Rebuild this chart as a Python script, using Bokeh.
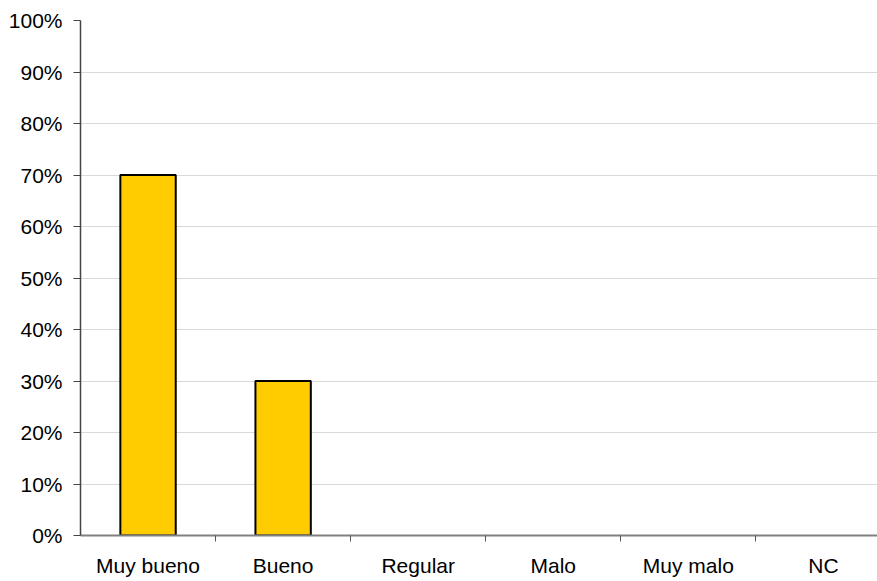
from bokeh.plotting import figure
from bokeh.models import FixedTicker, ColumnDataSource, Range1d
from bokeh.embed import file_html
from bokeh.resources import INLINE

categories = ["Muy bueno", "Bueno", "Regular", "Malo", "Muy malo", "NC"]
values = [70, 30, 0, 0, 0, 0]
y_ticks = [0, 10, 20, 30, 40, 50, 60, 70, 80, 90, 100]
y_tick_labels = ["0%", "10%", "20%", "30%", "40%", "50%", "60%", "70%", "80%", "90%", "100%"]

centers = [i + 0.5 for i in range(len(categories))]
outline = ["black" if v > 0 else None for v in values]
src = ColumnDataSource(dict(x=centers, top=values, cat=categories, lc=outline))

p = figure(width=877, height=579, output_backend="svg", toolbar_location=None,
           x_range=Range1d(0, 5.9), y_range=Range1d(0, 100),
           min_border_left=80, min_border_right=0, min_border_top=20, min_border_bottom=44)
p.outline_line_color = None
p.background_fill_color = "white"
p.border_fill_color = "white"

p.vbar(x="x", top="top", width=0.41, source=src, fill_color="#FFCC00",
       line_color="lc", line_width=2)

font = "Liberation Sans"
fs = "21px"

# x axis
p.xaxis.ticker = FixedTicker(ticks=centers, minor_ticks=[1, 2, 3, 4, 5])
p.xaxis.major_label_overrides = {c: cat for c, cat in zip(centers, categories)}
p.xaxis.major_tick_line_color = None
p.xaxis.major_tick_out = 6
p.xaxis.major_tick_in = 0
p.xaxis.minor_tick_line_color = "#555555"
p.xaxis.minor_tick_out = 6
p.xaxis.minor_tick_in = 0
p.xaxis.axis_line_color = "#808080"
p.xaxis.axis_line_width = 2
p.xaxis.major_label_text_font = font
p.xaxis.major_label_text_font_size = fs
p.xaxis.major_label_text_color = "black"
p.xaxis.major_label_standoff = 12

# y axis
p.yaxis.ticker = FixedTicker(ticks=y_ticks, minor_ticks=[])
p.yaxis.major_label_overrides = {t: l for t, l in zip(y_ticks, y_tick_labels)}
p.yaxis.major_tick_out = 7
p.yaxis.major_tick_in = 0
p.yaxis.major_tick_line_color = "#444444"
p.yaxis.axis_line_color = "#444444"
p.yaxis.axis_line_width = 1.5
p.yaxis.major_label_text_font = font
p.yaxis.major_label_text_font_size = fs
p.yaxis.major_label_text_color = "black"
p.yaxis.major_label_standoff = 11

p.xgrid.grid_line_color = None
p.ygrid.grid_line_color = "#D9D9D9"
p.ygrid.grid_line_width = 1

open("out.html", "w").write(file_html(p, INLINE))
